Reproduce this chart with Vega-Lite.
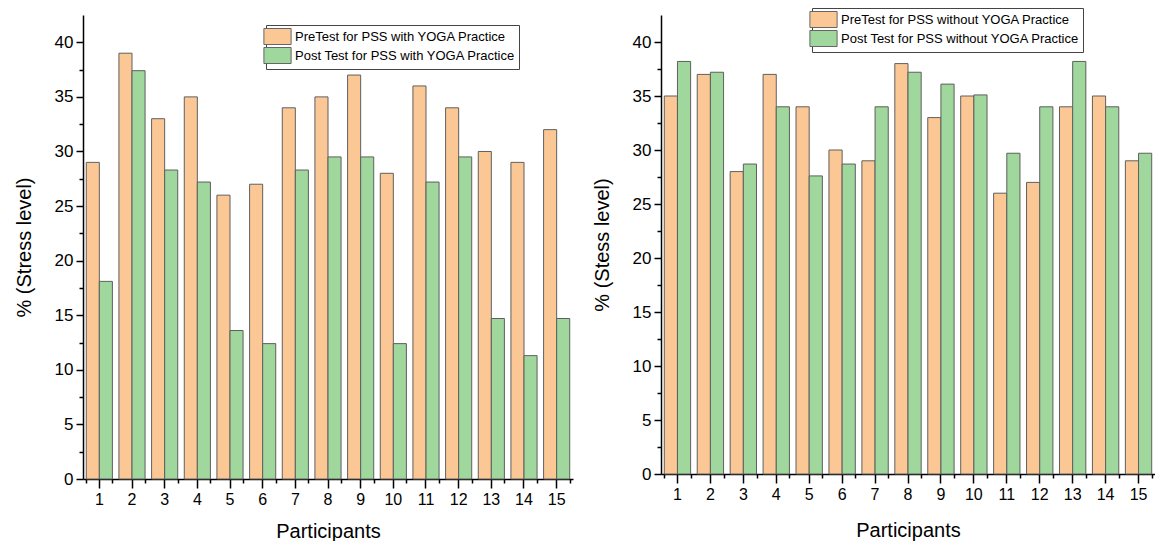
{
  "$schema": "https://vega.github.io/schema/vega-lite/v6.json",
  "padding": {"left": 14, "top": 7, "right": 0, "bottom": 0},
  "background": "white",
  "bounds": "flush",
  "spacing": 88,
  "config": {
    "view": {"stroke": null},
    "font": "Liberation Sans",
    "axis": {
      "domainColor": "black", "tickColor": "black", "labelColor": "black", "titleColor": "black",
      "domainWidth": 1.5, "tickWidth": 1.5, "grid": false, "titleFontWeight": "normal", "titleFontSize": 20,
      "labelFont": "Liberation Sans", "titleFont": "Liberation Sans"
    },
    "legend": {
      "orient": "none", "title": null, "direction": "vertical",
      "symbolType": "M-1.7,-1H1.7V1H-1.7Z", "symbolSize": 256,
      "symbolStrokeColor": "#666666", "symbolStrokeWidth": 1, "symbolOpacity": 1,
      "labelFontSize": 13, "labelFont": "Liberation Sans", "labelColor": "black", "labelLimit": 400,
      "strokeColor": "#444444", "fillColor": "white", "padding": 3, "rowPadding": -5, "labelOffset": 9
    }
  },
  "datasets": {
    "withYoga": [
      {"participant": 1, "series": "PreTest for PSS with YOGA Practice", "value": 29},
      {"participant": 2, "series": "PreTest for PSS with YOGA Practice", "value": 39},
      {"participant": 3, "series": "PreTest for PSS with YOGA Practice", "value": 33},
      {"participant": 4, "series": "PreTest for PSS with YOGA Practice", "value": 35},
      {"participant": 5, "series": "PreTest for PSS with YOGA Practice", "value": 26},
      {"participant": 6, "series": "PreTest for PSS with YOGA Practice", "value": 27},
      {"participant": 7, "series": "PreTest for PSS with YOGA Practice", "value": 34},
      {"participant": 8, "series": "PreTest for PSS with YOGA Practice", "value": 35},
      {"participant": 9, "series": "PreTest for PSS with YOGA Practice", "value": 37},
      {"participant": 10, "series": "PreTest for PSS with YOGA Practice", "value": 28},
      {"participant": 11, "series": "PreTest for PSS with YOGA Practice", "value": 36},
      {"participant": 12, "series": "PreTest for PSS with YOGA Practice", "value": 34},
      {"participant": 13, "series": "PreTest for PSS with YOGA Practice", "value": 30},
      {"participant": 14, "series": "PreTest for PSS with YOGA Practice", "value": 29},
      {"participant": 15, "series": "PreTest for PSS with YOGA Practice", "value": 32},
      {"participant": 1, "series": "Post Test for PSS with YOGA Practice", "value": 18.1},
      {"participant": 2, "series": "Post Test for PSS with YOGA Practice", "value": 37.4},
      {"participant": 3, "series": "Post Test for PSS with YOGA Practice", "value": 28.3},
      {"participant": 4, "series": "Post Test for PSS with YOGA Practice", "value": 27.2},
      {"participant": 5, "series": "Post Test for PSS with YOGA Practice", "value": 13.6},
      {"participant": 6, "series": "Post Test for PSS with YOGA Practice", "value": 12.4},
      {"participant": 7, "series": "Post Test for PSS with YOGA Practice", "value": 28.3},
      {"participant": 8, "series": "Post Test for PSS with YOGA Practice", "value": 29.5},
      {"participant": 9, "series": "Post Test for PSS with YOGA Practice", "value": 29.5},
      {"participant": 10, "series": "Post Test for PSS with YOGA Practice", "value": 12.4},
      {"participant": 11, "series": "Post Test for PSS with YOGA Practice", "value": 27.2},
      {"participant": 12, "series": "Post Test for PSS with YOGA Practice", "value": 29.5},
      {"participant": 13, "series": "Post Test for PSS with YOGA Practice", "value": 14.7},
      {"participant": 14, "series": "Post Test for PSS with YOGA Practice", "value": 11.3},
      {"participant": 15, "series": "Post Test for PSS with YOGA Practice", "value": 14.7}
    ],
    "withoutYoga": [
      {"participant": 1, "series": "PreTest for PSS without YOGA Practice", "value": 35},
      {"participant": 2, "series": "PreTest for PSS without YOGA Practice", "value": 37},
      {"participant": 3, "series": "PreTest for PSS without YOGA Practice", "value": 28},
      {"participant": 4, "series": "PreTest for PSS without YOGA Practice", "value": 37},
      {"participant": 5, "series": "PreTest for PSS without YOGA Practice", "value": 34},
      {"participant": 6, "series": "PreTest for PSS without YOGA Practice", "value": 30},
      {"participant": 7, "series": "PreTest for PSS without YOGA Practice", "value": 29},
      {"participant": 8, "series": "PreTest for PSS without YOGA Practice", "value": 38},
      {"participant": 9, "series": "PreTest for PSS without YOGA Practice", "value": 33},
      {"participant": 10, "series": "PreTest for PSS without YOGA Practice", "value": 35},
      {"participant": 11, "series": "PreTest for PSS without YOGA Practice", "value": 26},
      {"participant": 12, "series": "PreTest for PSS without YOGA Practice", "value": 27},
      {"participant": 13, "series": "PreTest for PSS without YOGA Practice", "value": 34},
      {"participant": 14, "series": "PreTest for PSS without YOGA Practice", "value": 35},
      {"participant": 15, "series": "PreTest for PSS without YOGA Practice", "value": 29},
      {"participant": 1, "series": "Post Test for PSS without YOGA Practice", "value": 38.2},
      {"participant": 2, "series": "Post Test for PSS without YOGA Practice", "value": 37.2},
      {"participant": 3, "series": "Post Test for PSS without YOGA Practice", "value": 28.7},
      {"participant": 4, "series": "Post Test for PSS without YOGA Practice", "value": 34},
      {"participant": 5, "series": "Post Test for PSS without YOGA Practice", "value": 27.6},
      {"participant": 6, "series": "Post Test for PSS without YOGA Practice", "value": 28.7},
      {"participant": 7, "series": "Post Test for PSS without YOGA Practice", "value": 34},
      {"participant": 8, "series": "Post Test for PSS without YOGA Practice", "value": 37.2},
      {"participant": 9, "series": "Post Test for PSS without YOGA Practice", "value": 36.1},
      {"participant": 10, "series": "Post Test for PSS without YOGA Practice", "value": 35.1},
      {"participant": 11, "series": "Post Test for PSS without YOGA Practice", "value": 29.7},
      {"participant": 12, "series": "Post Test for PSS without YOGA Practice", "value": 34},
      {"participant": 13, "series": "Post Test for PSS without YOGA Practice", "value": 38.2},
      {"participant": 14, "series": "Post Test for PSS without YOGA Practice", "value": 34},
      {"participant": 15, "series": "Post Test for PSS without YOGA Practice", "value": 29.7}
    ]
  },
  "hconcat": [
    {
      "width": 490, "height": 464,
      "data": {"name": "withYoga"},
      "layer": [
        {
          "mark": {"type": "bar", "stroke": "#5f5f5f", "strokeWidth": 1},
          "encoding": {
            "x": {"field": "participant", "type": "ordinal", "scale": {"paddingInner": 0.2, "paddingOuter": 0.1},
              "axis": {"title": "Participants", "labelAngle": 0, "tickSize": 9, "labelPadding": 3, "labelFontSize": 16, "titlePadding": 14}},
            "xOffset": {"field": "series", "scale": {"domain": ["PreTest for PSS with YOGA Practice", "Post Test for PSS with YOGA Practice"]}},
            "y": {"field": "value", "type": "quantitative", "scale": {"domain": [0, 42.5], "nice": false},
              "axis": {"title": "% (Stress level)", "values": [0, 2.5, 5, 7.5, 10, 12.5, 15, 17.5, 20, 22.5, 25, 27.5, 30, 32.5, 35, 37.5, 40],
                "labelExpr": "datum.value % 5 === 0 ? format(datum.value, 'd') : ''",
                "tickSize": {"condition": {"test": "datum.value % 5 === 0", "value": 7}, "value": 4},
                "labelFontSize": 17, "labelPadding": 3, "titlePadding": 20}},
            "color": {"field": "series", "type": "nominal",
              "scale": {"domain": ["PreTest for PSS with YOGA Practice", "Post Test for PSS with YOGA Practice"], "range": ["#FBC895", "#9FD79D"]},
              "legend": {"legendX": 183, "legendY": 10}}
          }
        },
        {
          "mark": {"type": "rule", "opacity": 0},
          "encoding": {
            "x": {"field": "participant", "type": "ordinal",
              "axis": {"orient": "bottom", "labels": false, "domain": false, "tickBand": "extent", "tickSize": 4, "title": null}}
          }
        }
      ],
      "resolve": {"axis": {"x": "independent"}}
    },
    {
      "width": 494, "height": 459,
      "data": {"name": "withoutYoga"},
      "layer": [
        {
          "mark": {"type": "bar", "stroke": "#5f5f5f", "strokeWidth": 1},
          "encoding": {
            "x": {"field": "participant", "type": "ordinal", "scale": {"paddingInner": 0.2, "paddingOuter": 0.1},
              "axis": {"title": "Participants", "labelAngle": 0, "tickSize": 9, "labelPadding": 3, "labelFontSize": 16, "titlePadding": 18}},
            "xOffset": {"field": "series", "scale": {"domain": ["PreTest for PSS without YOGA Practice", "Post Test for PSS without YOGA Practice"]}},
            "y": {"field": "value", "type": "quantitative", "scale": {"domain": [0, 42.5], "nice": false},
              "axis": {"title": "% (Stess level)", "values": [0, 2.5, 5, 7.5, 10, 12.5, 15, 17.5, 20, 22.5, 25, 27.5, 30, 32.5, 35, 37.5, 40],
                "labelExpr": "datum.value % 5 === 0 ? format(datum.value, 'd') : ''",
                "tickSize": {"condition": {"test": "datum.value % 5 === 0", "value": 7}, "value": 4},
                "labelFontSize": 17, "labelPadding": 3, "titlePadding": 20}},
            "color": {"field": "series", "type": "nominal",
              "scale": {"domain": ["PreTest for PSS without YOGA Practice", "Post Test for PSS without YOGA Practice"], "range": ["#FBC895", "#9FD79D"]},
              "legend": {"legendX": 151, "legendY": -7}}
          }
        },
        {
          "mark": {"type": "rule", "opacity": 0},
          "encoding": {
            "x": {"field": "participant", "type": "ordinal",
              "axis": {"orient": "bottom", "labels": false, "domain": false, "tickBand": "extent", "tickSize": 4, "title": null}}
          }
        }
      ],
      "resolve": {"axis": {"x": "independent"}}
    }
  ],
  "resolve": {"scale": {"color": "independent", "x": "independent", "y": "independent", "xOffset": "independent"}, "legend": {"color": "independent"}}
}
